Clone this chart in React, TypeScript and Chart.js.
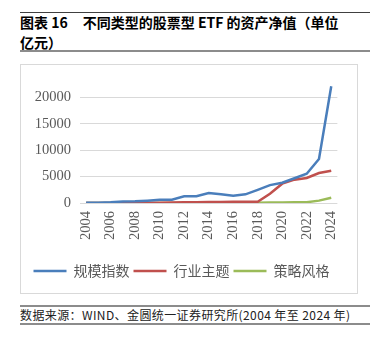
import React, { useEffect, useRef } from "react";
import { Chart, registerables } from "chart.js";

Chart.register(...registerables);

const years = ["2004","2005","2006","2007","2008","2009","2010","2011","2012","2013","2014","2015","2016","2017","2018","2019","2020","2021","2022","2023","2024"];
const scaleIndex = [30, 60, 130, 300, 320, 450, 620, 630, 1260, 1270, 1900, 1650, 1400, 1650, 2500, 3400, 3850, 4700, 5550, 8350, 22150];
const industryTheme = [0, 0, 10, 30, 30, 40, 60, 80, 120, 150, 180, 200, 250, 250, 250, 1770, 3670, 4430, 4750, 5700, 6140];
const strategyStyle = [0, 0, 0, 0, 0, 0, 0, 0, 0, 10, 20, 30, 40, 50, 60, 80, 100, 120, 150, 450, 1000];
const seriesNames = ["规模指数", "行业主题", "策略风格"];
const seriesColors = ["#4A7EBB", "#C0504D", "#9BBB59"];
const yTicks = [0, 5000, 10000, 15000, 20000];
const yMax = 22400;

export default function App() {
  const ref = useRef<HTMLCanvasElement>(null);
  useEffect(() => {
    const values = [scaleIndex, industryTheme, strategyStyle];
    const chart = new Chart(ref.current!, {
      type: "line",
      data: {
        labels: years,
        datasets: values.map((v, i) => ({
          label: seriesNames[i],
          data: v,
          borderColor: seriesColors[i],
          backgroundColor: seriesColors[i],
          borderWidth: 2.5,
          pointRadius: 0,
          tension: 0,
          fill: false,
        })),
      },
      options: {
        responsive: false,
        animation: false,
        layout: { padding: { left: 0, right: 15, top: 20, bottom: 5 } },
        plugins: {
          tooltip: { enabled: false },
          legend: {
            position: "bottom",
            labels: {
              usePointStyle: true,
              pointStyle: "line",
              pointStyleWidth: 33,
              padding: 4,
              color: "#595959",
              font: { family: "'Noto Sans CJK SC', sans-serif", size: 14 },
            },
          },
        },
        scales: {
          x: {
            offset: true,
            grid: { display: false, drawTicks: false },
            border: { display: false },
            ticks: {
              autoSkip: false,
              minRotation: 90,
              maxRotation: 90,
              padding: 8,
              color: "#595959",
              font: { family: "'Liberation Serif', serif", size: 14.5 },
              callback: (_v: any, i: number) => (i % 2 === 0 ? years[i] : ""),
            },
            afterFit: (s: any) => { s.height = 57; },
          },
          y: {
            min: 0,
            max: yMax,
            grid: { drawTicks: false, lineWidth: 1, color: "#D9D9D9" },
            border: { display: false },
            ticks: {
              autoSkip: false,
              padding: 9,
              color: "#595959",
              font: { family: "'Liberation Serif', serif", size: 14.5 },
              callback: (v: any) => String(v),
            },
            afterBuildTicks: (s: any) => {
              s.ticks = yTicks.map((v) => ({ value: v }));
            },
            afterFit: (s: any) => { s.width = 59; },
          },
        },
      },
    });
    return () => chart.destroy();
  }, []);

  const rule = (top: number, h: number, color: string) => (
    <div style={{ position: "absolute", left: 20, top, width: 350, height: h, background: color }} />
  );

  return (
    <div style={{ position: "absolute", left: 0, top: 0, width: 387, height: 345, background: "#fff", fontFamily: "'Noto Sans CJK SC', sans-serif" }}>
      {rule(12, 1, "#404040")}
      <div style={{ position: "absolute", left: 20, top: 12, width: 360, fontSize: 14, fontWeight: 700, lineHeight: "20px", color: "#000", whiteSpace: "nowrap" }}>
        <div>图表 16<span style={{ display: "inline-block", width: 15 }} />不同类型的股票型 ETF 的资产净值（单位</div>
        <div>亿元）</div>
      </div>
      {rule(50, 2, "#8C8C8C")}
      <div style={{ position: "absolute", left: 20, top: 64, width: 336, height: 228, border: "1px solid #D9D9D9" }}>
        <canvas ref={ref} width={336} height={228} style={{ width: 336, height: 228, display: "block" }} />
      </div>
      {rule(305, 2, "#8C8C8C")}
      <div style={{ position: "absolute", left: 20, top: 307, fontSize: 12, lineHeight: "16px", letterSpacing: "0.4px", color: "#222", whiteSpace: "nowrap" }}>
        数据来源：WIND、金圆统一证券研究所(2004 年至 2024 年)
      </div>
      {rule(323, 2, "#8C8C8C")}
    </div>
  );
}
